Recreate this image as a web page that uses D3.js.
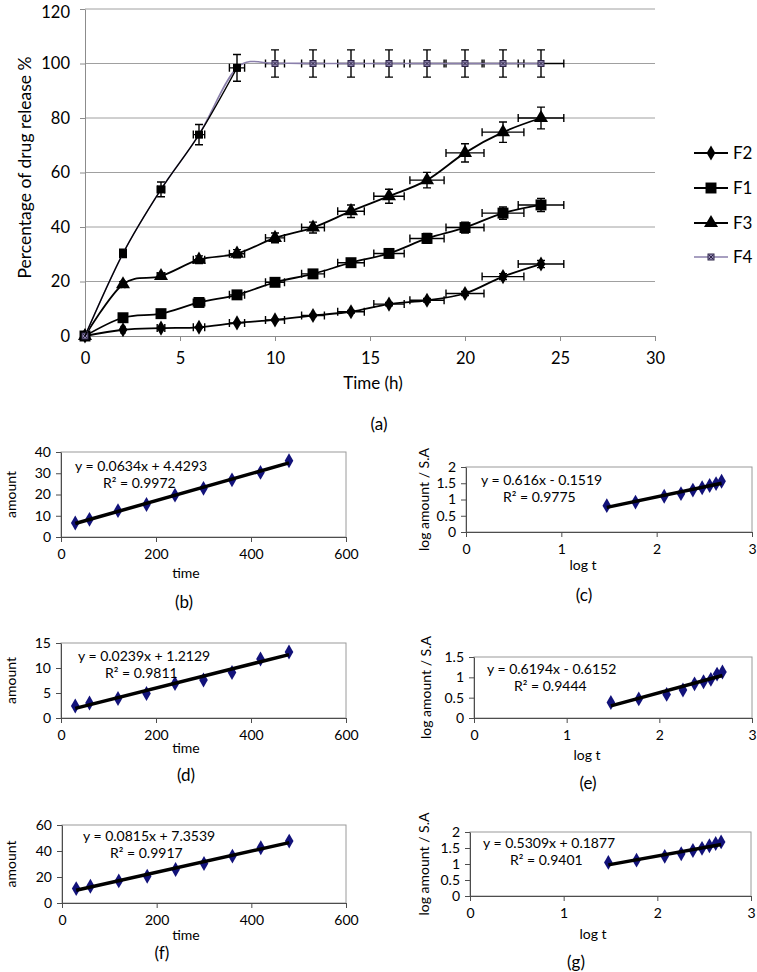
<!DOCTYPE html>
<html><head><meta charset="utf-8">
<script src="https://cdn.jsdelivr.net/npm/d3@7"></script>
<style>
body{margin:0;background:#fff}
svg{display:block}
text{font-family:Lato,"Open Sans",sans-serif;fill:#000}
</style>
</head><body>
<svg id="c" width="757" height="972"></svg>
<script>
// ---------- DATA: main release profile (a) ----------
const times = [0, 2, 4, 6, 8, 10, 12, 14, 16, 18, 20, 22, 24];
const F2 = [0, 2.3, 2.9, 3.2, 4.8, 5.9, 7.5, 8.9, 11.7, 13.1, 15.6, 21.8, 26.4];
const F1 = [0, 6.7, 8.2, 12.3, 15.1, 19.7, 22.8, 26.9, 30.3, 35.8, 39.8, 45.1, 48.1];
const F3 = [0, 19.0, 22.0, 28.0, 30.2, 36.0, 39.8, 45.8, 51.3, 57.2, 67.2, 74.8, 80.0];
const F4 = [0, 30.3, 53.8, 73.9, 98.4, 100, 100, 100, 100, 100, 100, 100, 100];
const seriesNames = ["F2", "F1", "F3", "F4"];
const mainYTicks = [0, 20, 40, 60, 80, 100, 120];
const mainXTicks = [0, 5, 10, 15, 20, 25, 30];
const errorPercent = 5; // error bars: percentage of value (x and y)

// ---------- DATA: kinetic plots (b)-(g) ----------
const kTime = [30, 60, 120, 180, 240, 300, 360, 420, 480];
const kLogT = [1.477, 1.778, 2.079, 2.255, 2.380, 2.477, 2.556, 2.623, 2.681];
const amountB = [6.6, 8.3, 12.4, 15.3, 19.7, 22.9, 26.9, 30.4, 35.9];
const logAmountC = [0.81, 0.92, 1.10, 1.18, 1.29, 1.36, 1.43, 1.49, 1.56];
const amountD = [2.4, 3.0, 3.9, 4.9, 6.9, 7.6, 9.1, 11.8, 13.2];
const logAmountE = [0.38, 0.47, 0.58, 0.69, 0.84, 0.89, 0.95, 1.08, 1.13];
const amountF = [11.1, 12.9, 17.0, 20.6, 25.8, 30.4, 36.1, 42.5, 47.6];
const logAmountG = [1.05, 1.12, 1.24, 1.32, 1.42, 1.49, 1.57, 1.64, 1.69];
const fitSlope = {b: 0.0634, c: 0.616, d: 0.0239, e: 0.6194, f: 0.0815, g: 0.5309};
const fitIntercept = {b: 4.4293, c: -0.1519, d: 1.2129, e: -0.6152, f: 7.3539, g: 0.1877};
const eqLabels = {b: "y = 0.0634x + 4.4293", c: "y = 0.616x - 0.1519", d: "y = 0.0239x + 1.2129",
                  e: "y = 0.6194x - 0.6152", f: "y = 0.0815x + 7.3539", g: "y = 0.5309x + 0.1877"};
const r2Labels = {b: "R² = 0.9972", c: "R² = 0.9775", d: "R² = 0.9811", e: "R² = 0.9444", f: "R² = 0.9917", g: "R² = 0.9401"};
const timeXTicks = [0, 200, 400, 600];
const logXTicks = [0, 1, 2, 3];
const yTicksB = [0, 10, 20, 30, 40];
const yTicksD = [0, 5, 10, 15];
const yTicksF = [0, 20, 40, 60];
const yTicksLog2 = [0, 0.5, 1, 1.5, 2];
const yTicksLog15 = [0, 0.5, 1, 1.5];

const svg = d3.select("#c");
const FF = 'Lato,"Open Sans",sans-serif';

// ================= MAIN CHART (a) =================
const mx = d3.scaleLinear().domain([0, 30]).range([85, 655]);
const my = d3.scaleLinear().domain([0, 120]).range([336, 9]);
const gm = svg.append("g");

gm.selectAll("line.grid").data(mainYTicks.filter(v => v > 0)).join("line")
  .attr("x1", mx(0)).attr("x2", mx(30))
  .attr("y1", d => my(d)).attr("y2", d => my(d))
  .attr("stroke", "#a0a0a0").attr("stroke-width", 1);

const yAxM = gm.append("g").attr("transform", `translate(${mx(0)},0)`)
  .call(d3.axisLeft(my).tickValues(mainYTicks).tickSize(5).tickSizeOuter(0).tickPadding(10));
const xAxM = gm.append("g").attr("transform", `translate(0,${my(0)})`)
  .call(d3.axisBottom(mx).tickValues(mainXTicks).tickSize(5).tickSizeOuter(0).tickPadding(11));
[yAxM, xAxM].forEach(a => {
  a.select(".domain").attr("stroke", "#8c8c8c");
  a.selectAll(".tick line").attr("stroke", "#8c8c8c");
  a.selectAll(".tick text").attr("font-size", 16.5).attr("font-family", FF).attr("fill", "#000");
});
// keep the topmost label inside the canvas
yAxM.selectAll(".tick text").filter(d => d === d3.max(mainYTicks)).attr("dy", "0.5em");

gm.append("text").attr("transform", `translate(25,${(my(0) + my(120)) / 2 - 5}) rotate(-90)`)
  .attr("text-anchor", "middle").attr("dy", "0.35em").attr("font-size", 17.5)
  .text("Percentage of drug release %");
gm.append("text").attr("x", 373).attr("y", 389).attr("text-anchor", "middle")
  .attr("font-size", 17).text("Time (h)");
gm.append("text").attr("x", 379).attr("y", 430).attr("text-anchor", "middle")
  .attr("font-size", 17).text("(a)");

const curve = d3.curveCardinal.tension(0);
const lineGen = d3.line().x(d => mx(d[0])).y(d => my(d[1])).curve(curve);

const seriesData = [F2, F1, F3, F4].map(vals => times.map((t, i) => [t, vals[i]]));
const symbols = [d3.symbolDiamond, d3.symbolSquare, d3.symbolTriangle, d3.symbolSquare];
const symSize = [66, 120, 85, 36];
const lineCol = ["#000", "#000", "#000", "#8a7fab"];

function errBars(g, pts) {
  const f = errorPercent / 100, cap = 4;
  pts.filter(p => p[0] > 0).forEach(p => {
    const ex = p[0] * f, ey = p[1] * f;
    const x = mx(p[0]), y = my(p[1]);
    const x1 = mx(p[0] - ex), x2 = mx(p[0] + ex);
    const y1 = my(p[1] - ey), y2 = my(p[1] + ey);
    const path = d3.path();
    path.moveTo(x1, y); path.lineTo(x2, y);
    path.moveTo(x1, y - cap); path.lineTo(x1, y + cap);
    path.moveTo(x2, y - cap); path.lineTo(x2, y + cap);
    path.moveTo(x, y1); path.lineTo(x, y2);
    path.moveTo(x - cap, y1); path.lineTo(x + cap, y1);
    path.moveTo(x - cap, y2); path.lineTo(x + cap, y2);
    g.append("path").attr("d", path.toString()).attr("stroke", "#000").attr("stroke-width", 1.4).attr("fill", "none");
  });
}

function drawF4Marker(g, x, y, s) {
  g.append("rect").attr("x", x - s / 2).attr("y", y - s / 2).attr("width", s).attr("height", s)
    .attr("fill", "#9187b0").attr("stroke", "#2f2648").attr("stroke-width", 1);
  g.append("path").attr("d", `M${x - s / 2 + 1},${y - s / 2 + 1}L${x + s / 2 - 1},${y + s / 2 - 1}M${x + s / 2 - 1},${y - s / 2 + 1}L${x - s / 2 + 1},${y + s / 2 - 1}`)
    .attr("stroke", "#2f2648").attr("stroke-width", 1);
}

seriesData.forEach((pts, si) => {
  const g = gm.append("g");
  errBars(g, pts);
  g.append("path").attr("d", lineGen(pts)).attr("fill", "none")
    .attr("stroke", lineCol[si]).attr("stroke-width", si === 3 ? 1.6 : 1.8);
  if (si < 3) {
    g.selectAll("path.m").data(pts).join("path").attr("class", "m")
      .attr("transform", d => `translate(${mx(d[0])},${my(d[1])})`)
      .attr("d", d3.symbol().type(symbols[si]).size(symSize[si]))
      .attr("fill", "#000");
  } else {
    pts.forEach(d => drawF4Marker(g, mx(d[0]), my(d[1]), 6));
  }
});
// black overlay on the early F4 segment (as in the original figure)
const f4early = seriesData[3].filter(d => d[0] <= 8);
gm.append("path").attr("d", lineGen(f4early)).attr("fill", "none").attr("stroke", "#000").attr("stroke-width", 1.3);
gm.selectAll("rect.f4b").data(f4early.filter(d => d[0] > 0)).join("rect").attr("class", "f4b")
  .attr("x", d => mx(d[0]) - 4).attr("y", d => my(d[1]) - 4).attr("width", 8).attr("height", 8).attr("fill", "#000");

// legend
const legY = [153, 188, 223, 257];
seriesNames.forEach((n, i) => {
  const g = gm.append("g");
  g.append("line").attr("x1", 694).attr("x2", 728).attr("y1", legY[i]).attr("y2", legY[i])
    .attr("stroke", lineCol[i]).attr("stroke-width", i === 3 ? 1.6 : 1.8);
  if (i < 3) {
    g.append("path").attr("transform", `translate(711,${legY[i]})`)
      .attr("d", d3.symbol().type(symbols[i]).size(symSize[i])).attr("fill", "#000");
  } else {
    drawF4Marker(g, 711, legY[i], 6);
  }
  g.append("text").attr("x", 733).attr("y", legY[i]).attr("dy", "0.35em").attr("font-size", 17).text(n);
});

// ================= SMALL CHARTS =================
function smallChart(c) {
  const x = d3.scaleLinear().domain(c.xd).range([c.l, c.r]);
  const y = d3.scaleLinear().domain(c.yd).range([c.b, c.t]);
  const g = svg.append("g");
  g.append("rect").attr("x", c.l).attr("y", c.t).attr("width", c.r - c.l).attr("height", c.b - c.t)
    .attr("fill", "none").attr("stroke", "#9a9a9a").attr("stroke-width", 1);
  const xa = g.append("g").attr("transform", `translate(0,${c.b})`)
    .call(d3.axisBottom(x).tickValues(c.xt).tickSize(5).tickSizeOuter(0).tickPadding(7).tickFormat(d => String(d)));
  const ya = g.append("g").attr("transform", `translate(${c.l},0)`)
    .call(d3.axisLeft(y).tickValues(c.yt).tickSize(5).tickSizeOuter(0).tickPadding(5).tickFormat(d => String(d)));
  [xa, ya].forEach(a => {
    a.select(".domain").attr("stroke", "#4d4d4d");
    a.selectAll(".tick line").attr("stroke", "#4d4d4d");
    a.selectAll(".tick text").attr("font-size", 14).attr("font-family", FF).attr("fill", "#000");
  });
  const pts = c.xs.map((v, i) => [v, c.ys[i]]);
  g.selectAll("path.pt").data(pts).join("path").attr("class", "pt")
    .attr("transform", d => `translate(${x(d[0])},${y(d[1])})`)
    .attr("d", d3.symbol().type(d3.symbolDiamond).size(64))
    .attr("fill", "#12127a");
  const x0 = c.xs[0], x1 = c.xs[c.xs.length - 1];
  g.append("line").attr("x1", x(x0)).attr("x2", x(x1))
    .attr("y1", y(c.m * x0 + c.k)).attr("y2", y(c.m * x1 + c.k))
    .attr("stroke", "#000").attr("stroke-width", 3.5);
  g.append("text").attr("x", c.eqx).attr("y", c.eqy).attr("dy", "0.35em").attr("font-size", 14).text(c.eq);
  g.append("text").attr("x", c.r2x).attr("y", c.eqy + 17).attr("dy", "0.35em").attr("font-size", 14).text(c.r2);
  g.append("text").attr("transform", `translate(${c.ytx},${(c.t + c.b) / 2}) rotate(-90)`)
    .attr("text-anchor", "middle").attr("dy", "0.35em").attr("font-size", 14).text(c.ytitle);
  g.append("text").attr("x", c.xtx).attr("y", c.xty).attr("text-anchor", "middle").attr("dy", "0.35em")
    .attr("font-size", 14).text(c.xtitle);
  g.append("text").attr("x", c.capx).attr("y", c.capy).attr("text-anchor", "middle").attr("dy", "0.35em")
    .attr("font-size", 17).text(c.cap);
}

smallChart({l: 61, r: 346, t: 452, b: 537, xd: [0, 600], yd: [0, 40], xt: timeXTicks, yt: yTicksB,
  xs: kTime, ys: amountB, m: fitSlope.b, k: fitIntercept.b, eq: eqLabels.b, r2: r2Labels.b,
  eqx: 75, eqy: 466, r2x: 103, ytitle: "amount", ytx: 11, xtitle: "time", xtx: 186, xty: 573, cap: "(b)", capx: 184, capy: 602});
smallChart({l: 466, r: 752, t: 467, b: 532, xd: [0, 3], yd: [0, 2], xt: logXTicks, yt: yTicksLog2,
  xs: kLogT, ys: logAmountC, m: fitSlope.c, k: fitIntercept.c, eq: eqLabels.c, r2: r2Labels.c,
  eqx: 481, eqy: 480, r2x: 503, ytitle: "log amount / S.A", ytx: 424, xtitle: "log t", xtx: 583, xty: 565, cap: "(c)", capx: 584, capy: 595});
smallChart({l: 61, r: 346, t: 643, b: 718, xd: [0, 600], yd: [0, 15], xt: timeXTicks, yt: yTicksD,
  xs: kTime, ys: amountD, m: fitSlope.d, k: fitIntercept.d, eq: eqLabels.d, r2: r2Labels.d,
  eqx: 78, eqy: 656, r2x: 105, ytitle: "amount", ytx: 11, xtitle: "time", xtx: 186, xty: 748, cap: "(d)", capx: 186, capy: 775});
smallChart({l: 474, r: 752, t: 657, b: 718, xd: [0, 3], yd: [0, 1.5], xt: logXTicks, yt: yTicksLog15,
  xs: kLogT, ys: logAmountE, m: fitSlope.e, k: fitIntercept.e, eq: eqLabels.e, r2: r2Labels.e,
  eqx: 487, eqy: 669, r2x: 514, ytitle: "log amount / S.A", ytx: 426, xtitle: "log t", xtx: 587, xty: 755, cap: "(e)", capx: 588, capy: 783});
smallChart({l: 62, r: 346, t: 825, b: 903, xd: [0, 600], yd: [0, 60], xt: timeXTicks, yt: yTicksF,
  xs: kTime, ys: amountF, m: fitSlope.f, k: fitIntercept.f, eq: eqLabels.f, r2: r2Labels.f,
  eqx: 83, eqy: 836, r2x: 110, ytitle: "amount", ytx: 11, xtitle: "time", xtx: 186, xty: 935, cap: "(f)", capx: 162, capy: 953});
smallChart({l: 470, r: 751, t: 832, b: 896, xd: [0, 3], yd: [0, 2], xt: logXTicks, yt: yTicksLog2,
  xs: kLogT, ys: logAmountG, m: fitSlope.g, k: fitIntercept.g, eq: eqLabels.g, r2: r2Labels.g,
  eqx: 483, eqy: 843, r2x: 510, ytitle: "log amount / S.A", ytx: 424, xtitle: "log t", xtx: 593, xty: 934, cap: "(g)", capx: 576, capy: 962});
</script>
</body></html>
